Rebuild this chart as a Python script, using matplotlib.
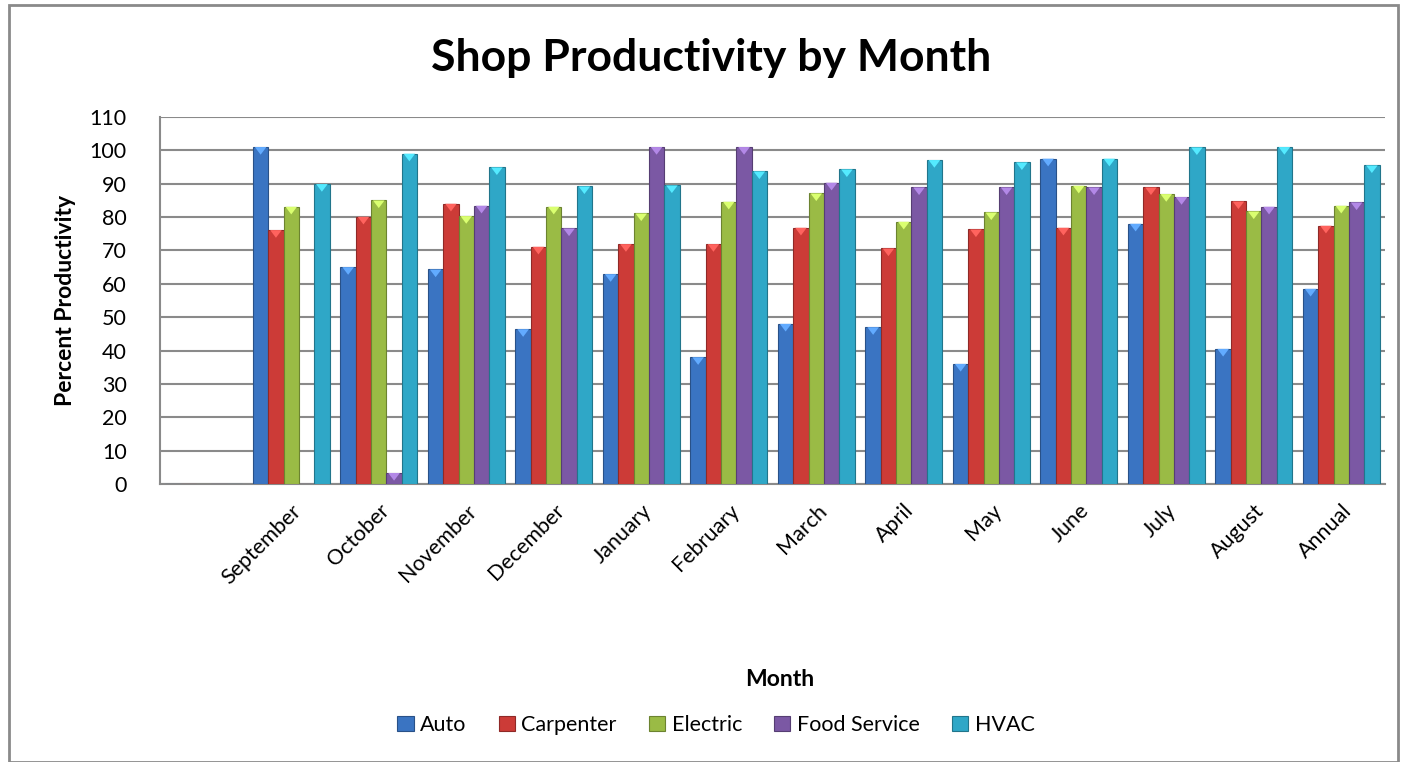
import matplotlib.pyplot as plt
import matplotlib.colors as mcolors
from matplotlib.patches import Polygon, Rectangle
import numpy as np

plt.rcParams['font.family'] = ['Lato', 'DejaVu Sans']

# first category is blank in the original chart
months = ['', 'September', 'October', 'November', 'December', 'January', 'February',
          'March', 'April', 'May', 'June', 'July', 'August', 'Annual']

auto = [0, 101, 65, 64.3, 46.4, 62.9, 38, 48, 47, 36, 97.5, 78, 40.5, 58.5]
carpenter = [0, 76.1, 80.1, 84, 71.1, 71.9, 71.9, 76.8, 70.6, 76.3, 76.8, 88.9, 84.7, 77.4]
electric = [0, 83.1, 85, 80.3, 83.1, 81.1, 84.6, 87.1, 78.6, 81.4, 89.4, 86.9, 81.7, 83.4]
food_service = [0, 0, 3.3, 83.4, 76.6, 101, 101, 90.3, 88.9, 88.9, 88.9, 86, 83.1, 84.4]
hvac = [0, 89.9, 99, 94.9, 89.2, 89.5, 93.7, 94.3, 97.1, 96.4, 97.5, 100.9, 101, 95.5]

series = [auto, carpenter, electric, food_service, hvac]
names = ['Auto', 'Carpenter', 'Electric', 'Food Service', 'HVAC']
colors = ['#3a74c2', '#cc3b37', '#9abb45', '#7b58a4', '#2fa7c7']

fig = plt.figure(figsize=(14.02, 7.62), dpi=100)
ax = fig.add_axes([160/1402, 1 - 484/762, 1225/1402, 367/762])

x = np.arange(len(months))
w = 0.175
for i, (vals, name, c) in enumerate(zip(series, names, colors)):
    dark = np.array(mcolors.to_rgb(c)) * 0.7
    light = np.clip(np.array(mcolors.to_rgb(c)) * 1.25 + 0.1, 0, 1)
    bars = ax.bar(x - 2*w + i*w, vals, width=w, align='center', color=c,
                  edgecolor=dark, linewidth=0.8, label=name, zorder=3)
    for r in bars:
        h = r.get_height()
        if h <= 0:
            continue
        bx, bw = r.get_x(), r.get_width()
        th = min(2.3, h)
        tri = Polygon([[bx + bw*0.12, h], [bx + bw*0.88, h], [bx + bw/2, h - th]],
                      closed=True, facecolor=light, edgecolor='none', zorder=4)
        ax.add_patch(tri)

ax.set_xlim(-0.5, len(months) - 0.5)
ax.set_ylim(0, 110)
ax.set_yticks(range(0, 111, 10))
ax.tick_params(axis='y', length=0, labelsize=15.5, pad=24)
ax.set_xticks(x)
ax.set_xticklabels(months, rotation=45, ha='right', rotation_mode='anchor', fontsize=15.5)
ax.tick_params(axis='x', length=0, pad=12)
ax.yaxis.grid(True, color='#8a8a8a', linewidth=1.5, zorder=0)
ax.set_axisbelow(True)
for s in ['top', 'right']:
    ax.spines[s].set_visible(False)
for s in ['left', 'bottom']:
    ax.spines[s].set_color('#8a8a8a')
    ax.spines[s].set_linewidth(1.5)

ax.set_ylabel('Percent Productivity', fontsize=16.5, fontweight='bold', labelpad=10)
fig.text(780/1402, 1 - 680/762, 'Month', fontsize=16.5, fontweight='bold', ha='center', va='center')
fig.text(711/1402, 1 - 58/762, 'Shop Productivity by Month', fontsize=32, fontweight='bold',
         ha='center', va='center')

fig.legend(loc='center', bbox_to_anchor=(716/1402, 1 - 725/762), ncol=5, frameon=False,
           fontsize=15.5, handlelength=0.75, handleheight=0.75, handletextpad=0.3, columnspacing=1.5)

fig.patches.append(Rectangle((9/1402, 0), 1389/1402, 757/762, transform=fig.transFigure,
                             fill=False, edgecolor='#8a8a8a', linewidth=2))

fig.savefig('out.png', dpi=100)
